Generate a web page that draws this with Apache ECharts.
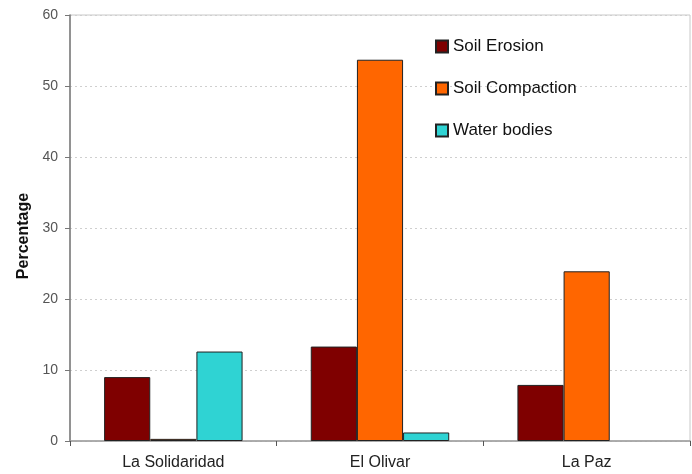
<!DOCTYPE html>
<html>
<head>
<meta charset="utf-8">
<script src="https://cdn.jsdelivr.net/npm/echarts@6/dist/echarts.min.js"></script>
<style>
  html, body { margin: 0; padding: 0; background: #fff; }
  #chart { width: 692px; height: 474px; }
</style>
</head>
<body>
<div id="chart"></div>
<script>
// Sites surveyed
const sites = ['La Solidaridad', 'El Olivar', 'La Paz'];

// Share of each degradation type per site (%)
const soilErosion = [9.0, 13.3, 7.9];
const soilCompaction = [0.3, 53.7, 23.9];
const waterBodies = [12.6, 1.2, 0];

// Value axis ticks
const yTicks = [0, 10, 20, 30, 40, 50, 60];

const FONT = '"Liberation Sans", Arial, sans-serif';

const chart = echarts.init(document.getElementById('chart'), null, { renderer: 'canvas' });

function barSeries(name, data, color) {
  return {
    name: name,
    type: 'bar',
    // zero-height bars get no outline so they leave no stray line on the axis
    data: data.map(v => v === 0 ? { value: v, itemStyle: { borderWidth: 0 } } : v),
    barGap: '0%',
    barCategoryGap: '33%',
    itemStyle: { color: color, borderColor: '#222', borderWidth: 1 }
  };
}

chart.setOption({
  animation: false,
  textStyle: { fontFamily: FONT },
  grid: {
    left: 70, right: 2, top: 15, bottom: 33,
    show: true, borderColor: '#c8c8c8', borderWidth: 1, backgroundColor: 'transparent'
  },
  legend: {
    orient: 'vertical',
    left: 430,
    top: 33,
    itemWidth: 12,
    itemHeight: 12,
    itemGap: 25,
    icon: 'rect',
    textStyle: { fontFamily: FONT, fontSize: 17, color: '#111' },
    data: ['Soil Erosion', 'Soil Compaction', 'Water bodies']
  },
  xAxis: {
    type: 'category',
    data: sites,
    axisLine: { lineStyle: { color: '#9a9a9a', width: 1.5 } },
    axisTick: { show: true, length: 5, lineStyle: { color: '#555' } },
    axisLabel: { fontFamily: FONT, fontSize: 16, color: '#222', margin: 14 }
  },
  yAxis: {
    type: 'value',
    min: yTicks[0],
    max: yTicks[yTicks.length - 1],
    interval: 10,
    name: 'Percentage',
    nameLocation: 'middle',
    nameGap: 38,
    nameRotate: 90,
    nameTextStyle: {
      fontFamily: FONT, fontSize: 16, fontWeight: 'bold', color: '#111',
      padding: [0, 16, 0, 0]
    },
    axisLine: { show: true, lineStyle: { color: '#777', width: 1.5 } },
    axisTick: { show: true, length: 5, lineStyle: { color: '#777' } },
    axisLabel: { fontFamily: FONT, fontSize: 14, color: '#555', margin: 12 },
    splitLine: { lineStyle: { color: '#cfcfcf', type: [2, 3], width: 1 } }
  },
  series: [
    barSeries('Soil Erosion', soilErosion, '#7f0000'),
    barSeries('Soil Compaction', soilCompaction, '#ff6600'),
    barSeries('Water bodies', waterBodies, '#2fd3d3')
  ]
});
</script>
</body>
</html>
